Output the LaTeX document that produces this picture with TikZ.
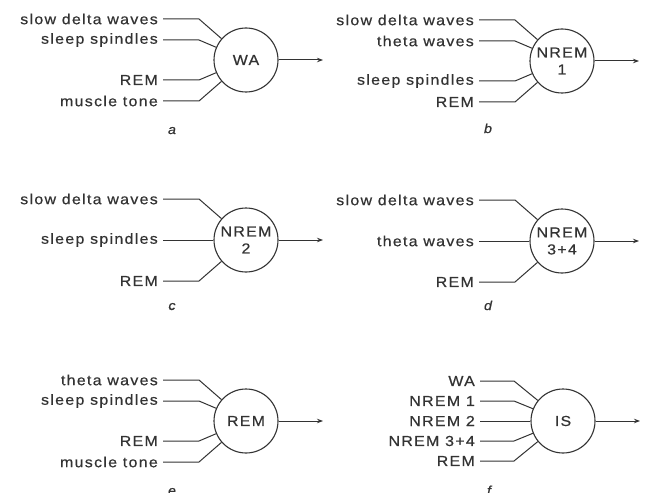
\documentclass[tikz,border=0pt]{standalone}
\usepackage{fontspec}
\setmainfont{Liberation Sans}[LetterSpace=9, FakeStretch=1.1, FakeBold=0.5]
\usetikzlibrary{arrows.meta}
\definecolor{ink}{HTML}{333333}
\tikzset{
  lbl/.style={anchor=east, inner sep=0pt, text=ink, font=\fontsize{14.5}{16}\selectfont},
  stage/.style={circle, draw=ink, line width=1.1pt, minimum size=64pt, inner sep=0pt,
                align=center, text=ink, font=\fontsize{14.5}{17}\selectfont},
  wire/.style={draw=ink, line width=1pt},
  outarrow/.style={wire, -{Stealth[length=6pt,width=4.5pt]}},
  tag/.style={anchor=base, inner sep=0pt, text=ink, font=\fontsize{13}{15}\selectfont\itshape},
}
\begin{document}
\begin{tikzpicture}[x=1pt, y=-1pt]
\useasboundingbox[fill=white] (0,0) rectangle (647,492);

% (a) waking
\begin{scope}[shift={(246,60)}]
  \node[stage] (wa) at (0,0) {WA};
  \node[lbl] (a1) at (-88,-41) {slow delta waves};
  \node[lbl] (a2) at (-88,-20) {sleep spindles};
  \node[lbl] (a3) at (-88, 20) {REM};
  \node[lbl] (a4) at (-88, 41) {muscle tone};
  \coordinate (a1b) at (-47,-41);
  \coordinate (a2b) at (-47,-20);
  \coordinate (a3b) at (-47, 20);
  \coordinate (a4b) at (-47, 41);
  \draw[wire] ([xshift=5pt]a1.east) -- (a1b) -- (wa);
  \draw[wire] ([xshift=5pt]a2.east) -- (a2b) -- (wa);
  \draw[wire] ([xshift=5pt]a3.east) -- (a3b) -- (wa);
  \draw[wire] ([xshift=5pt]a4.east) -- (a4b) -- (wa);
  \coordinate (aout) at (77,0);
  \draw[outarrow] (wa) -- (aout);
  \node[tag] (ta) at (-74,74) {a};
\end{scope}

% (b) NREM 1
\begin{scope}[shift={(562,61)}]
  \node[stage] (n1) at (0,0) {NREM\\1};
  \node[lbl] (b1) at (-88,-41) {slow delta waves};
  \node[lbl] (b2) at (-88,-20) {theta waves};
  \node[lbl] (b3) at (-88, 20) {sleep spindles};
  \node[lbl] (b4) at (-88, 41) {REM};
  \coordinate (b1b) at (-47,-41);
  \coordinate (b2b) at (-47,-20);
  \coordinate (b3b) at (-47, 20);
  \coordinate (b4b) at (-47, 41);
  \draw[wire] ([xshift=5pt]b1.east) -- (b1b) -- (n1);
  \draw[wire] ([xshift=5pt]b2.east) -- (b2b) -- (n1);
  \draw[wire] ([xshift=5pt]b3.east) -- (b3b) -- (n1);
  \draw[wire] ([xshift=5pt]b4.east) -- (b4b) -- (n1);
  \coordinate (bout) at (77,0);
  \draw[outarrow] (n1) -- (bout);
  \node[tag] (tb) at (-74,72) {b};
\end{scope}

% (c) NREM 2
\begin{scope}[shift={(246,240)}]
  \node[stage] (n2) at (0,0) {NREM\\2};
  \node[lbl] (c1) at (-88,-41) {slow delta waves};
  \node[lbl] (c2) at (-88,  0) {sleep spindles};
  \node[lbl] (c3) at (-88, 41) {REM};
  \coordinate (c1b) at (-47,-41);
  \coordinate (c3b) at (-47, 41);
  \draw[wire] ([xshift=5pt]c1.east) -- (c1b) -- (n2);
  \draw[wire] ([xshift=5pt]c2.east) -- (n2);
  \draw[wire] ([xshift=5pt]c3.east) -- (c3b) -- (n2);
  \coordinate (cout) at (77,0);
  \draw[outarrow] (n2) -- (cout);
  \node[tag] (tc) at (-74,70) {c};
\end{scope}

% (d) NREM 3+4
\begin{scope}[shift={(562,241)}]
  \node[stage] (n34) at (0,0) {NREM\\3+4};
  \node[lbl] (d1) at (-88,-41) {slow delta waves};
  \node[lbl] (d2) at (-88,  0) {theta waves};
  \node[lbl] (d3) at (-88, 41) {REM};
  \coordinate (d1b) at (-47,-41);
  \coordinate (d3b) at (-47, 41);
  \draw[wire] ([xshift=5pt]d1.east) -- (d1b) -- (n34);
  \draw[wire] ([xshift=5pt]d2.east) -- (n34);
  \draw[wire] ([xshift=5pt]d3.east) -- (d3b) -- (n34);
  \coordinate (dout) at (77,0);
  \draw[outarrow] (n34) -- (dout);
  \node[tag] (td) at (-74,69) {d};
\end{scope}

% (e) REM sleep
\begin{scope}[shift={(246,421)}]
  \node[stage] (rem) at (0,0) {REM};
  \node[lbl] (e1) at (-88,-41) {theta waves};
  \node[lbl] (e2) at (-88,-20) {sleep spindles};
  \node[lbl] (e3) at (-88, 20) {REM};
  \node[lbl] (e4) at (-88, 41) {muscle tone};
  \coordinate (e1b) at (-47,-41);
  \coordinate (e2b) at (-47,-20);
  \coordinate (e3b) at (-47, 20);
  \coordinate (e4b) at (-47, 41);
  \draw[wire] ([xshift=5pt]e1.east) -- (e1b) -- (rem);
  \draw[wire] ([xshift=5pt]e2.east) -- (e2b) -- (rem);
  \draw[wire] ([xshift=5pt]e3.east) -- (e3b) -- (rem);
  \draw[wire] ([xshift=5pt]e4.east) -- (e4b) -- (rem);
  \coordinate (eout) at (77,0);
  \draw[outarrow] (rem) -- (eout);
  \node[tag] (te) at (-74,74) {e};
\end{scope}

% (f) integrated stage
\begin{scope}[shift={(563,421)}]
  \node[stage] (is) at (0,0) {IS};
  \node[lbl] (f1) at (-88,-40) {WA};
  \node[lbl] (f2) at (-88,-20) {NREM 1};
  \node[lbl] (f3) at (-88,  0) {NREM 2};
  \node[lbl] (f4) at (-88, 20) {NREM 3+4};
  \node[lbl] (f5) at (-88, 40) {REM};
  \coordinate (f1b) at (-49,-40);
  \coordinate (f2b) at (-49,-20);
  \coordinate (f4b) at (-49, 20);
  \coordinate (f5b) at (-49, 40);
  \draw[wire] ([xshift=5pt]f1.east) -- (f1b) -- (is);
  \draw[wire] ([xshift=5pt]f2.east) -- (f2b) -- (is);
  \draw[wire] ([xshift=5pt]f3.east) -- (is);
  \draw[wire] ([xshift=5pt]f4.east) -- (f4b) -- (is);
  \draw[wire] ([xshift=5pt]f5.east) -- (f5b) -- (is);
  \coordinate (fout) at (77,0);
  \draw[outarrow] (is) -- (fout);
  \node[tag] (tf) at (-74,74) {f};
\end{scope}
\end{tikzpicture}
\end{document}
